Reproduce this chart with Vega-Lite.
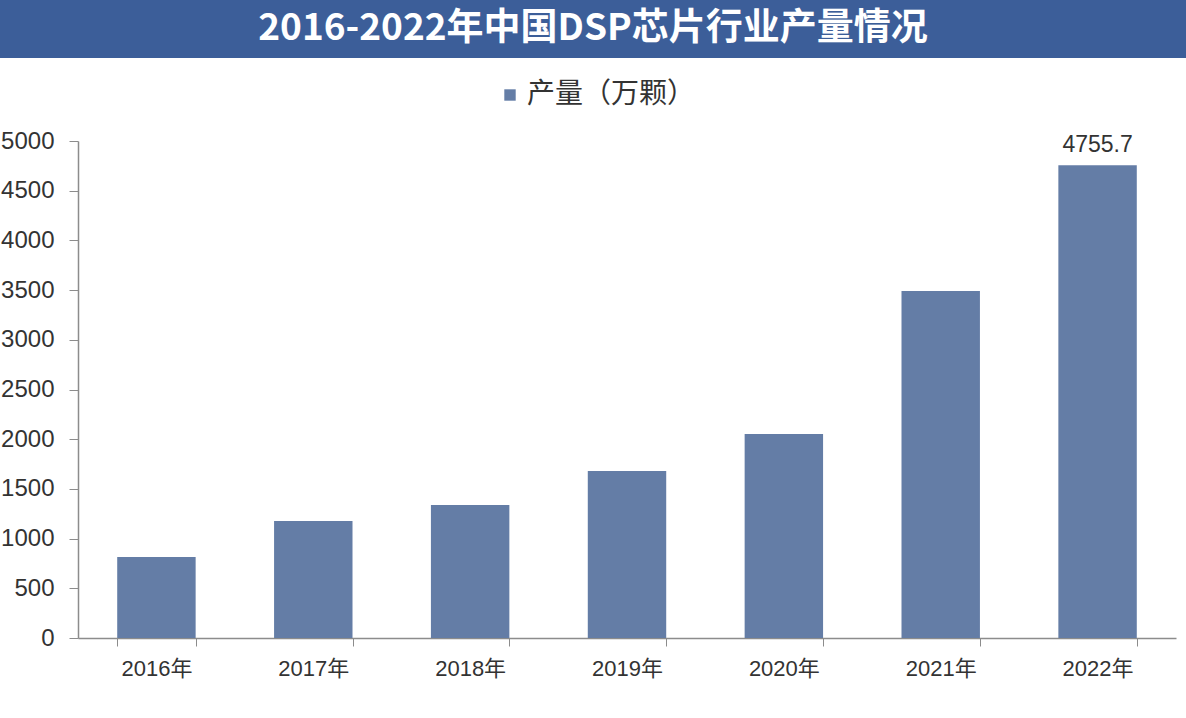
{
  "$schema": "https://vega.github.io/schema/vega-lite/v6.json",
  "background": "white",
  "padding": 0,
  "spacing": 23,
  "columns": 1,
  "bounds": "full",
  "resolve": {"legend": {"fill": "independent"}},
  "config": {"view": {"stroke": null}},
  "concat": [
    {
      "width": 1108,
      "height": 58,
      "view": {"fill": "#3C5E99", "stroke": null},
      "data": {"values": [{"t": "2016-2022年中国DSP芯片行业产量情况"}]},
      "mark": {"type": "text", "color": "white", "fontSize": 37, "font": "Noto Sans CJK SC", "fontWeight": "bold", "baseline": "middle", "align": "center", "dx": -39},
      "encoding": {
        "text": {"field": "t"},
        "y": {"field": "t", "type": "nominal", "axis": {"title": null, "labels": false, "ticks": false, "domain": true, "translate": 0, "domainColor": "#3C5E99", "domainWidth": 157, "minExtent": 0, "maxExtent": 0}}
      }
    },
    {
      "width": 1098,
      "height": 497,
      "data": {"values": [
        {"year": "2016年", "value": 815, "series": "产量（万颗）"},
        {"year": "2017年", "value": 1177, "series": "产量（万颗）"},
        {"year": "2018年", "value": 1338, "series": "产量（万颗）"},
        {"year": "2019年", "value": 1680, "series": "产量（万颗）"},
        {"year": "2020年", "value": 2052, "series": "产量（万颗）"},
        {"year": "2021年", "value": 3491, "series": "产量（万颗）"},
        {"year": "2022年", "value": 4755.7, "series": "产量（万颗）"}
      ]},
      "layer": [
        {
          "mark": {"type": "bar", "color": "#647DA6"},
          "encoding": {
            "x": {"field": "year", "type": "nominal", "sort": null,
              "scale": {"paddingInner": 0.5, "paddingOuter": 0.25},
              "axis": {"title": null, "labelAngle": 0, "labelFont": "Liberation Sans, Noto Sans CJK SC", "labelFontSize": 22, "labelColor": "#333333", "domainColor": "#8C8C8C", "domainWidth": 1.5, "tickColor": "#8C8C8C", "tickSize": 8, "tickBand": "extent", "labelPadding": 12}},
            "y": {"field": "value", "type": "quantitative",
              "scale": {"domain": [0, 5000]},
              "axis": {"title": null, "format": "d", "values": [0,500,1000,1500,2000,2500,3000,3500,4000,4500,5000], "grid": false, "labelFont": "Liberation Sans", "labelFontSize": 24, "labelColor": "#333333", "domainColor": "#8C8C8C", "domainWidth": 1.5, "tickColor": "#8C8C8C", "tickSize": 9, "labelPadding": 15, "minExtent": 78, "maxExtent": 78}},
            "fill": {"field": "series", "type": "nominal",
              "scale": {"range": ["#647DA6"]},
              "legend": {"title": null, "orient": "none", "legendX": 418, "legendY": -60, "symbolType": "square", "symbolSize": 130, "labelFont": "Noto Sans CJK SC", "labelFontSize": 28, "labelLimit": 400, "labelColor": "#333333", "labelOffset": 3}}
          }
        },
        {
          "transform": [{"filter": "datum.year == '2022年'"}],
          "mark": {"type": "text", "baseline": "bottom", "dy": -8, "font": "Liberation Sans", "fontSize": 23, "color": "#333333"},
          "encoding": {
            "x": {"field": "year", "type": "nominal", "sort": null},
            "y": {"field": "value", "type": "quantitative"},
            "text": {"field": "value", "type": "quantitative", "format": ".1f"}
          }
        }
      ]
    }
  ]
}
